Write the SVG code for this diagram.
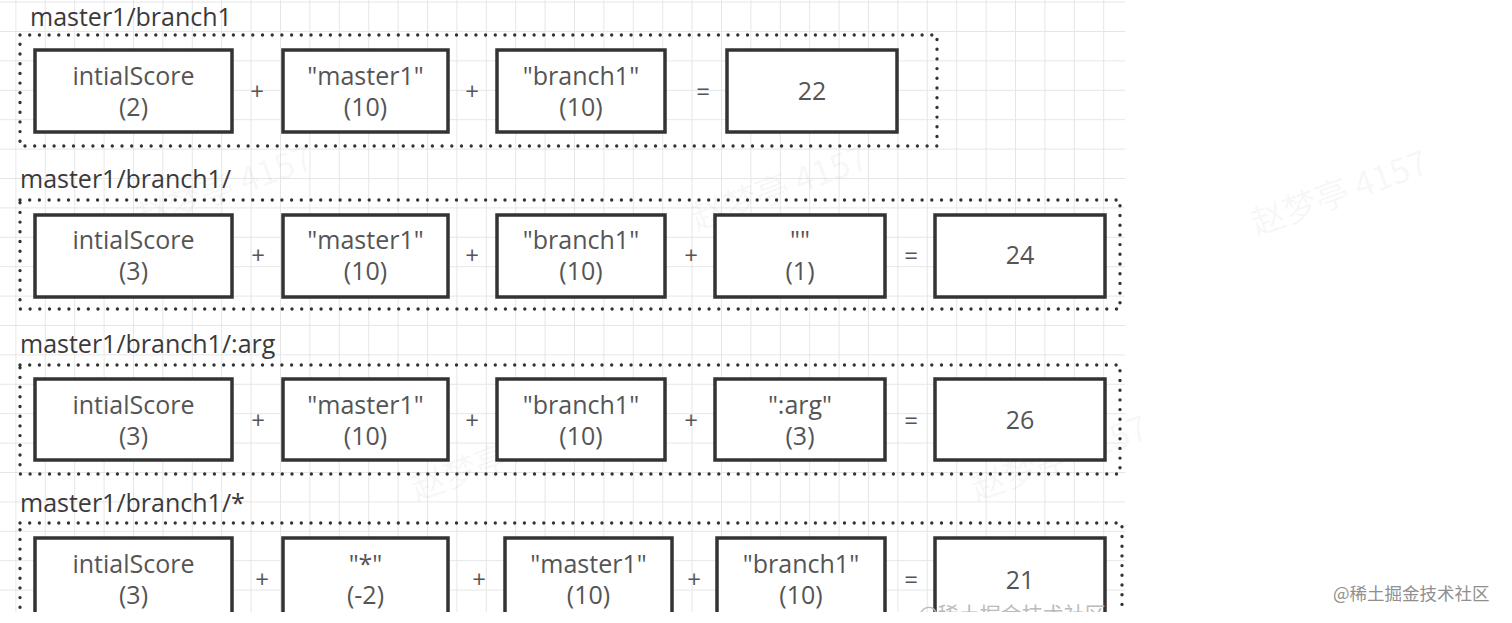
<svg xmlns="http://www.w3.org/2000/svg" width="1512" height="623" viewBox="0 0 1512 623">
<defs>
<style>
.grp{fill:none;stroke:#333;stroke-width:3.4;stroke-dasharray:0 9.7;stroke-linecap:round}
.box{fill:#fff;stroke:#333;stroke-width:3.5}
.t{font-family:"Open Sans","Noto Sans",sans-serif;font-size:25px;fill:#555;text-anchor:middle}
.lbl{font-family:"Open Sans","Noto Sans",sans-serif;font-size:25px;fill:#3a3a3a}
.op{font-family:"Open Sans","Noto Sans",sans-serif;font-size:24px;fill:#555;text-anchor:middle}
.wm{font-family:"Noto Sans CJK SC","Open Sans",sans-serif;font-size:34px;fill:#000;fill-opacity:0.05}
</style>
<pattern id="grid" patternUnits="userSpaceOnUse" x="15.4" y="1.6" width="29.4" height="29.4">
<path d="M0 0.5H29.4M0.5 0V29.4" stroke="#e6e6e6" stroke-width="1" fill="none"/>
</pattern>
<clipPath id="clipTop"><rect x="0" y="0" width="1125" height="612"/></clipPath>
</defs>
<rect x="0" y="0" width="1512" height="623" fill="#fff"/>
<rect x="0" y="0" width="1125" height="612" fill="url(#grid)"/>

<g id="watermarks">
<text class="wm" x="225" y="200" text-anchor="middle" transform="rotate(-20 225 190)">赵梦亭 4157</text>
<text class="wm" x="780" y="200" text-anchor="middle" transform="rotate(-20 780 190)">赵梦亭 4157</text>
<text class="wm" x="1340" y="205" text-anchor="middle" transform="rotate(-20 1340 195)">赵梦亭 4157</text>
<text class="wm" x="500" y="470" text-anchor="middle" transform="rotate(-20 500 460)">赵梦亭 4157</text>
<text class="wm" x="1060" y="470" text-anchor="middle" transform="rotate(-20 1060 460)">赵梦亭 4157</text>
</g>

<g clip-path="url(#clipTop)">
<g id="group1">
<text class="lbl" x="30" y="26">master1/branch1</text>
<rect class="grp" x="20" y="35" width="917" height="111"/>
</g>
<g id="r1n1"><rect class="box" x="35" y="50" width="197" height="82"/><text class="t" x="133.5" y="85">intialScore</text><text class="t" x="133.5" y="116">(2)</text></g>
<g id="r1n2"><rect class="box" x="283" y="50" width="165" height="82"/><text class="t" x="365.5" y="85">"master1"</text><text class="t" x="365.5" y="116">(10)</text></g>
<g id="r1n3"><rect class="box" x="497" y="50" width="168" height="82"/><text class="t" x="581" y="85">"branch1"</text><text class="t" x="581" y="116">(10)</text></g>
<g id="r1n4"><rect class="box" x="727" y="50" width="170" height="82"/><text class="t" x="812" y="100">22</text></g>

<g id="group2">
<text class="lbl" x="20" y="188">master1/branch1/</text>
<rect class="grp" x="20" y="200" width="1100" height="109"/>
</g>
<g id="r2n1"><rect class="box" x="35" y="215" width="197" height="82"/><text class="t" x="133.5" y="249">intialScore</text><text class="t" x="133.5" y="280">(3)</text></g>
<g id="r2n2"><rect class="box" x="283" y="215" width="165" height="82"/><text class="t" x="365.5" y="249">"master1"</text><text class="t" x="365.5" y="280">(10)</text></g>
<g id="r2n3"><rect class="box" x="497" y="215" width="168" height="82"/><text class="t" x="581" y="249">"branch1"</text><text class="t" x="581" y="280">(10)</text></g>
<g id="r2n4"><rect class="box" x="715" y="215" width="170" height="82"/><text class="t" x="800" y="249">""</text><text class="t" x="800" y="280">(1)</text></g>
<g id="r2n5"><rect class="box" x="935" y="215" width="170" height="82"/><text class="t" x="1020" y="264">24</text></g>

<g id="group3">
<text class="lbl" x="20" y="353">master1/branch1/:arg</text>
<rect class="grp" x="20" y="365" width="1100" height="109"/>
</g>
<g id="r3n1"><rect class="box" x="35" y="379" width="197" height="81"/><text class="t" x="133.5" y="414">intialScore</text><text class="t" x="133.5" y="445">(3)</text></g>
<g id="r3n2"><rect class="box" x="283" y="379" width="165" height="81"/><text class="t" x="365.5" y="414">"master1"</text><text class="t" x="365.5" y="445">(10)</text></g>
<g id="r3n3"><rect class="box" x="497" y="379" width="168" height="81"/><text class="t" x="581" y="414">"branch1"</text><text class="t" x="581" y="445">(10)</text></g>
<g id="r3n4"><rect class="box" x="715" y="379" width="170" height="81"/><text class="t" x="800" y="414">":arg"</text><text class="t" x="800" y="445">(3)</text></g>
<g id="r3n5"><rect class="box" x="935" y="379" width="170" height="81"/><text class="t" x="1020" y="429">26</text></g>

<g id="group4">
<text class="lbl" x="20" y="512">master1/branch1/*</text>
<rect class="grp" x="20" y="523" width="1102" height="109"/>
</g>
<g id="r4n1"><rect class="box" x="35" y="538" width="197" height="82"/><text class="t" x="133.5" y="573">intialScore</text><text class="t" x="133.5" y="604">(3)</text></g>
<g id="r4n2"><rect class="box" x="283" y="538" width="165" height="82"/><text class="t" x="365.5" y="573">"*"</text><text class="t" x="365.5" y="604">(-2)</text></g>
<g id="r4n3"><rect class="box" x="505" y="538" width="167" height="82"/><text class="t" x="588.5" y="573">"master1"</text><text class="t" x="588.5" y="604">(10)</text></g>
<g id="r4n4"><rect class="box" x="717" y="538" width="168" height="82"/><text class="t" x="801" y="573">"branch1"</text><text class="t" x="801" y="604">(10)</text></g>
<g id="r4n5"><rect class="box" x="935" y="538" width="170" height="82"/><text class="t" x="1020" y="589">21</text></g>

<g id="connectors">
<text class="op" x="257" y="100">+</text><text class="op" x="472" y="100">+</text><text class="op" x="703" y="100">=</text>
<text class="op" x="258" y="264">+</text><text class="op" x="472" y="264">+</text><text class="op" x="691" y="264">+</text><text class="op" x="911" y="264">=</text>
<text class="op" x="258" y="429">+</text><text class="op" x="472" y="429">+</text><text class="op" x="691" y="429">+</text><text class="op" x="911" y="429">=</text>
<text class="op" x="262" y="588">+</text><text class="op" x="479" y="588">+</text><text class="op" x="694" y="588">+</text><text class="op" x="911" y="588">=</text>
</g>
<text x="918" y="622" font-family="'Noto Sans CJK SC',sans-serif" font-size="21" fill="#bbb">@稀土掘金技术社区</text>
</g>

<text x="1333" y="600" font-family="'Noto Sans CJK SC',sans-serif" font-size="17.5" fill="#8f8f8f">@稀土掘金技术社区</text>
</svg>
